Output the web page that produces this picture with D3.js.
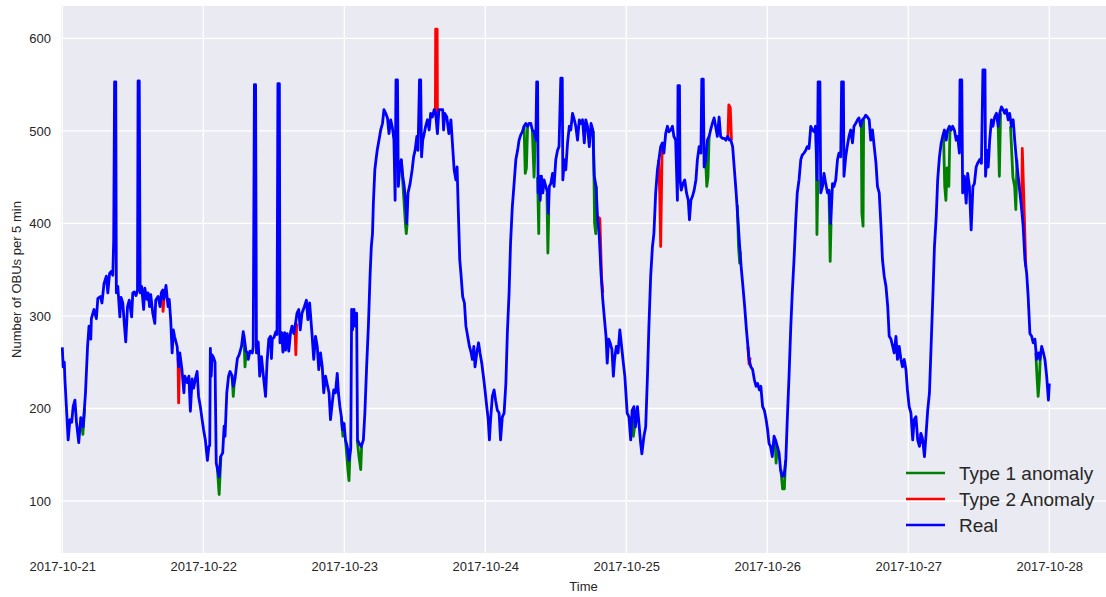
<!DOCTYPE html>
<html>
<head>
<meta charset="utf-8">
<script src="https://cdn.jsdelivr.net/npm/d3@7/dist/d3.min.js"></script>
<style>
  body { margin: 0; background: #fff; }
  svg text { font-family: "Liberation Sans", Arial, sans-serif; fill: #262626; }
</style>
</head>
<body>
<div id="chart"></div>
<script>
// readings are [hour of the day, OBUs per 5 min]
var day1 = [[0,266],[0.15,245],[0.34,250],[0.45,231],[1.0,166],[1.3,188],[1.6,185],[1.85,202],[2.15,209],[2.4,186],[2.8,163],[3.15,190],[3.55,180],[3.95,217],[4.3,267],[4.55,289],[4.85,275],[4.95,297],[5.4,307],[5.8,297],[6.05,319],[6.5,321],[6.75,314],[7.1,335],[7.5,343],[7.75,325],[8.05,346],[8.3,348],[8.6,344],[8.75,382],[8.9,553],[9.1,553],[9.2,325],[9.45,332],[9.8,299],[10.0,320],[10.3,314],[10.55,292],[10.8,272],[11.1,310],[11.4,317],[11.8,299],[12.0,325],[12.25,326],[12.55,322],[12.8,328],[12.9,554],[13.1,554],[13.25,325],[13.5,332],[13.85,307],[14.05,330],[14.4,318],[14.6,325],[14.85,310],[15.05,323],[15.4,303],[15.75,292],[15.9,317],[16.3,321],[16.65,310],[16.85,325],[17.1,328],[17.3,318],[17.65,333],[18.0,310],[18.2,318],[18.45,296],[18.7,260],[18.9,285],[19.1,278],[19.55,267],[19.8,245],[20.0,260],[20.35,243],[20.7,217],[20.85,235],[21.25,228],[21.55,235],[21.8,197],[22.1,232],[22.35,222],[22.65,232],[22.95,240],[23.2,213],[23.5,202],[23.8,188]];
var day2 = [[0.05,177],[0.35,166],[0.7,144],[0.95,159],[1.1,160],[1.2,265],[1.35,235],[1.5,258],[1.75,255],[2.0,250],[2.2,141],[2.4,135],[2.7,126],[2.95,148],[3.3,152],[3.55,181],[3.7,170],[4.0,217],[4.3,235],[4.55,240],[4.85,236],[5.1,224],[5.4,232],[5.8,254],[6.1,258],[6.5,267],[6.8,283],[7.1,270],[7.25,262],[7.55,260],[7.65,253],[7.95,262],[8.35,260],[8.5,267],[8.7,550],[8.9,550],[9.05,260],[9.35,272],[9.6,235],[9.9,256],[10.3,231],[10.6,213],[10.85,250],[11.15,275],[11.45,278],[11.6,254],[11.75,275],[12.05,277],[12.35,283],[12.55,280],[12.7,551],[12.95,551],[13.05,271],[13.35,282],[13.55,261],[13.85,282],[14.0,263],[14.3,281],[14.55,262],[14.85,282],[15.1,289],[15.4,281],[15.7,292],[15.95,303],[16.25,307],[16.5,285],[16.8,303],[17.2,310],[17.55,317],[17.8,296],[18.1,314],[18.5,281],[18.8,253],[19.1,278],[19.4,267],[19.65,242],[19.95,260],[20.25,245],[20.5,217],[20.8,235],[21.1,226],[21.4,217],[21.65,188],[21.95,206],[22.2,220],[22.5,217],[22.8,238],[23.0,217],[23.25,202],[23.5,191],[23.7,177],[23.95,184]];
var day3 = [[0.2,166],[0.5,159],[0.8,144],[1.1,157],[1.25,307],[1.4,285],[1.65,307],[1.85,289],[2.1,303],[2.25,166],[2.55,162],[2.9,159],[3.25,166],[3.5,195],[3.8,245],[4.1,289],[4.4,346],[4.6,375],[4.8,389],[4.95,422],[5.2,458],[5.4,469],[5.6,479],[5.9,490],[6.2,501],[6.5,508],[6.75,523],[7.05,519],[7.35,514],[7.6,497],[7.9,512],[8.2,503],[8.45,490],[8.65,425],[8.8,555],[9.05,555],[9.2,440],[9.45,461],[9.7,469],[9.95,451],[10.2,440],[10.45,422],[10.65,400],[10.85,433],[11.2,443],[11.55,458],[11.8,472],[12.05,479],[12.35,494],[12.55,479],[12.8,555],[13.0,555],[13.15,472],[13.35,490],[13.6,497],[13.85,505],[14.15,512],[14.45,501],[14.7,519],[15.0,515],[15.3,523],[15.55,519],[15.85,497],[16.1,523],[16.45,523],[16.75,523],[16.9,501],[17.1,519],[17.45,515],[17.8,497],[18.15,512],[18.4,487],[18.7,458],[19.0,447],[19.2,461],[19.4,415],[19.65,361],[19.85,346],[20.15,321],[20.45,314],[20.7,289],[21.0,278],[21.3,267],[21.6,260],[21.8,253],[22.05,267],[22.25,245],[22.55,260],[22.85,271],[23.1,260],[23.4,249],[23.75,231]];
var day4 = [[0.0,217],[0.25,202],[0.5,188],[0.7,166],[0.9,188],[1.2,213],[1.5,220],[1.75,209],[2.05,198],[2.35,195],[2.6,166],[2.9,191],[3.2,195],[3.5,227],[3.75,281],[4.05,325],[4.3,379],[4.6,418],[4.9,443],[5.2,469],[5.5,479],[5.75,490],[6.05,496],[6.3,499],[6.6,505],[6.9,508],[7.2,505],[7.45,508],[7.75,508],[8.0,501],[8.3,499],[8.6,490],[8.75,553],[8.9,553],[9.0,433],[9.15,451],[9.35,425],[9.55,451],[9.8,433],[10.0,447],[10.3,440],[10.6,433],[10.75,411],[10.9,440],[11.15,443],[11.45,454],[11.7,440],[12.0,469],[12.3,479],[12.55,483],[12.85,557],[13.1,557],[13.2,447],[13.45,469],[13.7,458],[14.0,487],[14.3,505],[14.55,501],[14.85,519],[15.15,512],[15.4,505],[15.7,490],[16.0,512],[16.25,508],[16.55,512],[16.85,487],[17.1,512],[17.4,505],[17.7,483],[18.0,508],[18.3,501],[18.55,451],[18.85,440],[19.1,407],[19.4,386],[19.7,346],[20.0,317],[20.25,299],[20.55,278],[20.75,249],[21.0,275],[21.25,271],[21.55,264],[21.8,235],[22.0,253],[22.3,267],[22.6,260],[22.9,285],[23.2,267],[23.5,249],[23.75,235]];
var day5 = [[0.15,195],[0.45,191],[0.75,166],[1.0,198],[1.3,202],[1.55,180],[1.9,202],[2.1,188],[2.45,162],[2.65,151],[3.0,170],[3.3,180],[3.6,235],[3.85,289],[4.15,343],[4.45,375],[4.7,389],[5.0,433],[5.3,458],[5.55,469],[5.85,483],[6.15,487],[6.4,476],[6.7,497],[7.0,505],[7.25,499],[7.55,501],[7.85,505],[8.1,494],[8.4,490],[8.7,425],[8.8,549],[9.05,549],[9.15,447],[9.35,436],[9.65,443],[9.95,447],[10.25,433],[10.55,425],[10.75,404],[11.0,425],[11.25,429],[11.55,436],[11.85,447],[12.1,469],[12.4,483],[12.7,476],[12.85,556],[13.1,556],[13.25,461],[13.55,469],[13.8,490],[14.1,494],[14.35,501],[14.65,508],[14.95,514],[15.2,505],[15.5,494],[15.8,515],[16.05,494],[16.35,492],[16.65,492],[16.95,490],[17.25,494],[17.55,490],[17.8,490],[18.1,483],[18.4,458],[18.7,433],[19.0,404],[19.3,375],[19.55,353],[19.85,332],[20.15,310],[20.45,285],[20.7,267],[20.9,253],[21.2,245],[21.5,242],[21.8,231],[22.1,224],[22.35,227],[22.65,220],[22.9,224],[23.2,202],[23.5,198],[23.8,188]];
var day6 = [[0.05,177],[0.3,162],[0.55,159],[0.85,148],[1.15,170],[1.4,166],[1.7,159],[2.0,152],[2.25,134],[2.55,127],[2.85,127],[3.15,144],[3.4,188],[3.7,235],[4.0,289],[4.25,325],[4.55,361],[4.85,404],[5.1,433],[5.4,447],[5.7,469],[5.95,474],[6.25,476],[6.55,479],[6.8,483],[7.1,481],[7.4,505],[7.7,501],[8.0,499],[8.2,505],[8.5,447],[8.65,553],[8.95,553],[9.1,433],[9.4,440],[9.65,454],[9.95,443],[10.25,433],[10.5,436],[10.8,400],[11.1,443],[11.35,440],[11.65,447],[11.95,469],[12.2,476],[12.5,472],[12.65,553],[12.95,553],[13.05,451],[13.35,472],[13.6,483],[13.9,494],[14.2,501],[14.5,487],[14.75,505],[15.05,508],[15.35,512],[15.6,514],[15.9,505],[16.2,512],[16.5,514],[16.75,517],[17.05,515],[17.35,512],[17.6,490],[17.9,501],[18.2,483],[18.5,465],[18.75,440],[19.05,433],[19.35,397],[19.6,361],[19.9,343],[20.2,332],[20.5,310],[20.75,278],[21.05,275],[21.35,267],[21.6,260],[21.9,278],[22.15,253],[22.45,267],[22.75,253],[23.0,245],[23.3,253],[23.6,242],[23.85,220]];
var day7 = [[0.15,202],[0.45,195],[0.75,166],[1.0,188],[1.3,191],[1.6,166],[1.9,159],[2.15,173],[2.45,166],[2.75,148],[3.0,170],[3.3,198],[3.6,217],[3.9,271],[4.2,325],[4.45,375],[4.75,407],[5.0,447],[5.3,472],[5.6,487],[5.85,494],[6.15,501],[6.45,490],[6.7,501],[7.0,505],[7.3,501],[7.55,505],[7.85,501],[8.15,490],[8.4,494],[8.7,476],[8.8,555],[9.1,555],[9.25,433],[9.55,451],[9.85,422],[10.1,454],[10.4,440],[10.7,393],[11.0,440],[11.25,443],[11.55,461],[11.8,465],[12.15,469],[12.45,465],[12.7,566],[13.05,566],[13.15,451],[13.4,479],[13.6,461],[13.85,490],[14.15,512],[14.4,505],[14.7,515],[15.0,519],[15.3,505],[15.55,519],[15.85,526],[16.15,523],[16.4,519],[16.7,523],[17.0,512],[17.25,519],[17.55,505],[17.85,512],[18.15,487],[18.4,469],[18.7,451],[19.0,433],[19.3,415],[19.55,397],[19.85,361],[20.15,346],[20.4,321],[20.7,281],[21.0,278],[21.25,271],[21.55,275],[21.85,253],[22.15,260],[22.4,253],[22.7,267],[23.0,260],[23.25,253],[23.55,235],[23.85,209],[24.0,227]];

// anomaly stretches: [hours since 2017-10-21 00:00, value]
var type1Segments = [
  [[3.2,190],[3.5,172],[3.8,200]],
  [[26.4,135],[26.7,107],[27.0,148]],
  [[28.9,236],[29.1,213],[29.3,230]],
  [[30.9,280],[31.1,245],[31.3,262]],
  [[47.5,191],[47.75,170],[47.95,184]],
  [[48.2,166],[48.6,135],[48.8,122],[49.0,157]],
  [[50.2,166],[50.5,148],[50.8,134],[50.95,159]],
  [[57.7,469],[58.0,440],[58.4,400],[58.55,389],[58.7,400]],
  [[78.6,505],[78.8,454],[79.0,460],[79.2,505]],
  [[80.0,501],[80.3,450],[80.5,490]],
  [[80.9,450],[81.1,389],[81.2,451]],
  [[82.5,433],[82.65,368],[82.8,411]],
  [[90.4,500],[90.6,400],[90.8,389],[90.9,440]],
  [[97.0,198],[97.2,170],[97.4,180],[97.55,180]],
  [[109.5,469],[109.7,440],[109.9,450],[110.1,494]],
  [[114.9,420],[115.1,375],[115.3,357],[115.4,370]],
  [[121.3,166],[121.5,141],[121.7,159]],
  [[122.3,134],[122.6,113],[122.9,113],[123.1,144]],
  [[128.3,505],[128.45,388],[128.6,447]],
  [[130.5,436],[130.7,359],[130.85,400]],
  [[136.0,510],[136.1,411],[136.3,397],[136.4,512]],
  [[150.0,494],[150.2,440],[150.4,425],[150.6,460],[150.9,440],[151.1,505]],
  [[159.3,505],[159.5,451],[159.7,519]],
  [[161.4,505],[161.8,450],[162.1,440],[162.3,415],[162.5,469]],
  [[165.7,260],[165.9,235],[166.1,213],[166.3,230],[166.5,260]]
];
var type2Segments = [
  [[17.0,328],[17.15,305],[17.3,318]],
  [[19.7,255],[19.8,206],[19.95,245]],
  [[39.6,289],[39.75,258],[39.9,292]],
  [[63.5,519],[63.55,610],[63.8,610],[63.85,519]],
  [[91.3,407],[91.5,405],[91.8,340],[92.0,325]],
  [[101.5,469],[101.7,430],[101.85,375],[102.1,483]],
  [[113.3,494],[113.45,528],[113.7,525],[113.9,490]],
  [[116.7,267],[116.9,248],[117.1,255]],
  [[146.1,173],[146.2,163],[146.35,170]],
  [[163.3,415],[163.4,481],[163.6,440],[164.0,353]]
];

var dayLabels = ["2017-10-21","2017-10-22","2017-10-23","2017-10-24","2017-10-25","2017-10-26","2017-10-27","2017-10-28"];
var yTicks = [100, 200, 300, 400, 500, 600];
var legendNames = ["Type 1 anomaly", "Type 2 Anomaly", "Real"];
var legendColors = ["green", "red", "blue"];

var width = 1106, height = 597;
var margin = {top: 6, left: 61, right: 0, bottom: 44};
var w = width - margin.left - margin.right;
var h = height - margin.top - margin.bottom;

var parseDay = d3.utcParse("%Y-%m-%d");
var t0 = parseDay(dayLabels[0]);
function toDate(hours) { return new Date(t0.getTime() + hours * 3600e3); }

var real = [];
[day1, day2, day3, day4, day5, day6, day7].forEach(function(d, i) {
  d.forEach(function(p) { real.push([i * 24 + p[0], p[1]]); });
});

var svg = d3.select('#chart').append('svg')
    .attr('width', width)
    .attr('height', height);

var g = svg.append('g')
    .attr('transform', 'translate(' + margin.left + ',' + margin.top + ')');

var x = d3.scaleUtc()
    .domain([toDate(-0.22), toDate(177.65)])
    .range([0, w]);
var y = d3.scaleLinear()
    .domain([43.8, 635])
    .range([h, 0]);

g.append('rect')
    .attr('width', w)
    .attr('height', h)
    .attr('fill', '#EAEAF2');

var dayTicks = dayLabels.map(parseDay);

////////////////// grid
g.selectAll('.vgrid').data(dayTicks).enter().append('line')
    .attr('x1', function(d) { return x(d); })
    .attr('x2', function(d) { return x(d); })
    .attr('y1', 0).attr('y2', h)
    .attr('stroke', 'white').attr('stroke-width', 1.3);
g.selectAll('.hgrid').data(yTicks).enter().append('line')
    .attr('x1', 0).attr('x2', w)
    .attr('y1', function(d) { return y(d); })
    .attr('y2', function(d) { return y(d); })
    .attr('stroke', 'white').attr('stroke-width', 1.3);

////////////////// axes
var xAxis = g.append('g')
    .attr('transform', 'translate(0,' + h + ')')
    .call(d3.axisBottom(x).tickValues(dayTicks).tickFormat(d3.utcFormat("%Y-%m-%d")).tickSize(0).tickPadding(9));
var yAxis = g.append('g')
    .call(d3.axisLeft(y).tickValues(yTicks).tickSize(0).tickPadding(10));
[xAxis, yAxis].forEach(function(a) {
  a.select('.domain').remove();
  a.selectAll('text').attr('font-size', 13).attr('fill', '#262626')
    .style('font-family', '"Liberation Sans", Arial, sans-serif');
});

svg.append('text')
    .attr('x', margin.left + w / 2)
    .attr('y', 591)
    .attr('text-anchor', 'middle')
    .attr('font-size', 13)
    .text('Time');
svg.append('text')
    .attr('transform', 'translate(21,' + (margin.top + h / 2) + ') rotate(-90)')
    .attr('text-anchor', 'middle')
    .attr('font-size', 13)
    .text('Number of OBUs per 5 min');

////////////////// lines
var line = d3.line()
    .x(function(d) { return x(toDate(d[0])); })
    .y(function(d) { return y(d[1]); });

var plot = g.append('g');
plot.selectAll('.t1').data(type1Segments).enter().append('path')
    .attr('d', line).attr('fill', 'none')
    .attr('stroke', 'green').attr('stroke-width', 2.8)
    .attr('stroke-linejoin', 'round');
plot.selectAll('.t2').data(type2Segments).enter().append('path')
    .attr('d', line).attr('fill', 'none')
    .attr('stroke', 'red').attr('stroke-width', 2.8)
    .attr('stroke-linejoin', 'round');
plot.append('path')
    .datum(real)
    .attr('d', line).attr('fill', 'none')
    .attr('stroke', 'blue').attr('stroke-width', 2.8)
    .attr('stroke-linejoin', 'round');

////////////////// legend
var legend = svg.append('g');
legendNames.forEach(function(name, i) {
  var ly = 473 + i * 26;
  legend.append('line')
      .attr('x1', 906).attr('x2', 945)
      .attr('y1', ly).attr('y2', ly)
      .attr('stroke', legendColors[i]).attr('stroke-width', 2.5);
  legend.append('text')
      .attr('x', 959).attr('y', ly)
      .attr('dy', '0.35em')
      .attr('font-size', 19)
      .text(name);
});
</script>
</body>
</html>
